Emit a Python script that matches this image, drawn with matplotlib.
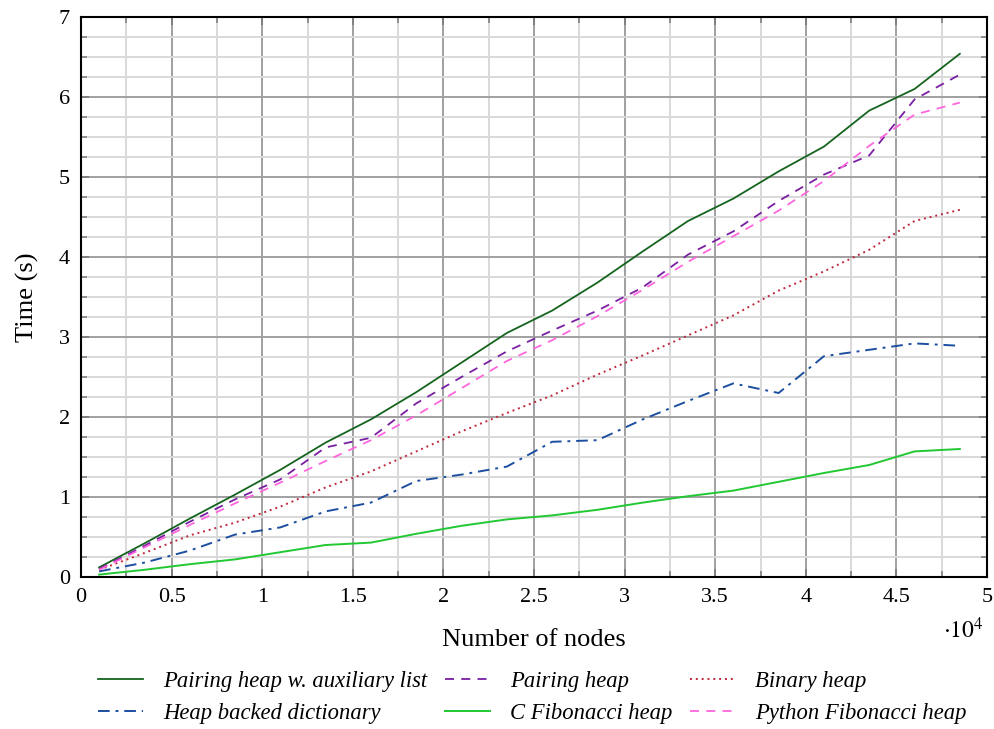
import numpy as np
import matplotlib
matplotlib.use('Agg')
import matplotlib.pyplot as plt
from matplotlib.ticker import MultipleLocator

# Number of nodes
nodes = [1000, 3500, 6000, 8500, 11000, 13500, 16000, 18500, 21000, 23500,
         26000, 28500, 31000, 33500, 36000, 38500, 41000, 43500, 46000, 48500]

# Time (s) per implementation
pairing_aux = [0.12, 0.42, 0.73, 1.03, 1.34, 1.68, 1.97, 2.31, 2.68, 3.05,
               3.33, 3.68, 4.07, 4.45, 4.73, 5.07, 5.38, 5.83, 6.10, 6.54]
pairing = [0.10, 0.39, 0.69, 0.97, 1.22, 1.62, 1.74, 2.17, 2.50, 2.82,
           3.08, 3.33, 3.62, 4.03, 4.32, 4.70, 5.03, 5.27, 5.97, 6.28]
binary = [0.09, 0.30, 0.52, 0.68, 0.88, 1.12, 1.32, 1.57, 1.82, 2.05,
          2.27, 2.53, 2.77, 3.02, 3.27, 3.58, 3.82, 4.09, 4.45, 4.59]
heapdict = [0.07, 0.18, 0.33, 0.53, 0.62, 0.82, 0.93, 1.20, 1.28, 1.38,
            1.69, 1.71, 1.97, 2.20, 2.42, 2.30, 2.76, 2.84, 2.92, 2.89]
c_fib = [0.03, 0.09, 0.16, 0.22, 0.31, 0.40, 0.43, 0.54, 0.64, 0.72,
         0.77, 0.84, 0.93, 1.01, 1.08, 1.19, 1.30, 1.40, 1.57, 1.60]
py_fib = [0.09, 0.37, 0.65, 0.92, 1.18, 1.45, 1.71, 2.02, 2.36, 2.70,
          2.96, 3.26, 3.59, 3.94, 4.26, 4.58, 4.95, 5.39, 5.78, 5.93]

x_ticks = [0, 5000, 10000, 15000, 20000, 25000, 30000, 35000, 40000, 45000, 50000]
x_tick_labels = ['0', '0.5', '1', '1.5', '2', '2.5', '3', '3.5', '4', '4.5', '5']
y_ticks = [0, 1, 2, 3, 4, 5, 6, 7]

plt.rcParams['font.family'] = ['Liberation Serif', 'DejaVu Serif']
plt.rcParams['mathtext.fontset'] = 'stix'

fig = plt.figure(figsize=(9.95, 7.29), dpi=100)
ax = fig.add_axes([0.0814, 0.2085, 0.9106, 0.7682])

l1, = ax.plot(nodes, pairing_aux, color='#14641e', lw=1.3, label='Pairing heap w. auxiliary list')
l2, = ax.plot(nodes, pairing, color='#7a1fa2', lw=1.3, ls=(0, (5, 4)), label='Pairing heap')
l3, = ax.plot(nodes, binary, color='#c0283c', lw=1.4, ls=(0, (1, 2)), label='Binary heap')
l4, = ax.plot(nodes, heapdict, color='#1c4fa0', lw=1.4, ls=(0, (6, 3, 1.5, 3)), label='Heap backed dictionary')
l5, = ax.plot(nodes, c_fib, color='#22c832', lw=1.4, label='C Fibonacci heap')
l6, = ax.plot(nodes, py_fib, color='#ff66dd', lw=1.3, ls=(0, (5, 4)), label='Python Fibonacci heap')

ax.set_xlim(0, 50000)
ax.set_ylim(0, 7)
ax.set_xticks(x_ticks)
ax.set_xticklabels(x_tick_labels)
ax.set_yticks(y_ticks)
ax.xaxis.set_minor_locator(MultipleLocator(2500))
ax.yaxis.set_minor_locator(MultipleLocator(0.25))

ax.grid(which='major', color='#a0a0a0', lw=1.4)
ax.grid(which='minor', color='#d9d9d9', lw=1.4)
ax.set_axisbelow(True)
for s in ax.spines.values():
    s.set_linewidth(1.5)

ax.tick_params(which='both', direction='in', top=True, right=True, color='#808080')
ax.tick_params(which='major', length=6, width=1.4, labelsize=16, pad=8)
ax.tick_params(which='minor', length=4, width=1.2)

ax.set_xlabel('Number of nodes', fontsize=19, labelpad=16)
ax.set_ylabel('Time (s)', fontsize=19, labelpad=14)
fig.text(0.968, 0.118, r'$\cdot10^{4}$', fontsize=17, ha='center', va='bottom')

handles = [l1, l4, l2, l5, l3, l6]
fig.legend(handles, [h.get_label() for h in handles], ncol=3, loc='upper center',
           bbox_to_anchor=(0.535, 0.108), frameon=False, prop={'style': 'italic', 'size': 16.3},
           handlelength=2.0, columnspacing=0.75, labelspacing=0.5, handletextpad=0.9)

plt.savefig('out.png', dpi=100)
